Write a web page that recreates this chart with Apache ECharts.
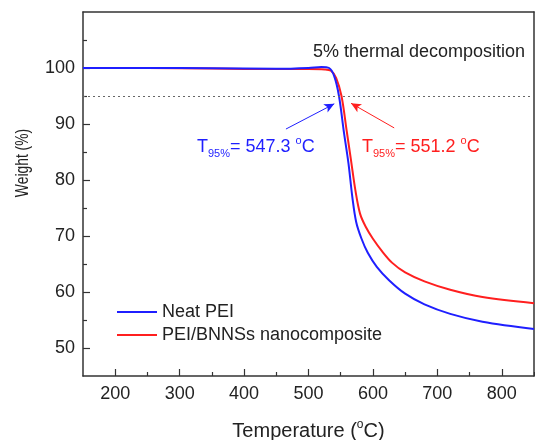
<!DOCTYPE html>
<html><head><meta charset="utf-8">
<script src="https://cdn.jsdelivr.net/npm/echarts@6/dist/echarts.min.js"></script>
<style>html,body{margin:0;padding:0;background:#fff}#c{width:535px;height:440px}</style>
</head><body><div id="c"></div><script>
const xTicks = [200, 300, 400, 500, 600, 700, 800];
const xMinor = [250, 350, 450, 550, 650, 750, 850];
const yTicks = [50, 60, 70, 80, 90, 100];
const yMinor = [55, 65, 75, 85, 95, 105];
const seriesNames = ['Neat PEI', 'PEI/BNNSs nanocomposite'];
const neatT = [150, 250, 350, 450, 500, 520, 532, 540, 547.3, 555, 562, 568, 574, 582, 592, 606, 625, 650, 680, 720, 770, 850];
const neatW = [100.0, 100.0, 99.95, 99.85, 100.0, 100.2, 100.0, 98.5, 95.0, 88.5, 83.0, 77.0, 72.5, 69.6, 67.0, 64.5, 62.1, 59.7, 57.8, 56.1, 54.7, 53.4];
const compT = [150, 250, 350, 450, 500, 525, 535, 543, 551.2, 559, 566, 573, 580, 589, 600, 614, 630, 650, 680, 720, 770, 850];
const compW = [100.0, 100.0, 99.9, 99.8, 99.8, 99.75, 99.5, 98.2, 95.0, 89.0, 83.5, 78.0, 74.0, 71.6, 69.5, 67.3, 65.2, 63.5, 61.9, 60.4, 59.1, 58.0];
const threshold = 95;
const blueArrow = [[465, 89.1], [540, 93.6]];
const redArrow = [[633, 89.3], [566, 93.7]];

const BLUE = '#1f1fff', RED = '#ff1f1f', INK = '#222';
const FONT = '"Liberation Sans", Arial, sans-serif';
const zip = (a, b) => a.map((v, i) => [v, b[i]]);

const chart = echarts.init(document.getElementById('c'), null, {renderer: 'canvas'});
const axisLine = {show: true, lineStyle: {color: '#333', width: 1.5}};
chart.setOption({
  animation: false,
  backgroundColor: '#fff',
  grid: {left: 83, right: 1, top: 12, bottom: 64, containLabel: false, outerBoundsMode: 'none'},
  xAxis: [
    {type: 'value', min: 150, max: 850, position: 'bottom', axisLine,
     splitLine: {show: false},
     axisTick: {inside: true, length: 7, customValues: xTicks, lineStyle: {color: '#333', width: 1.2}},
     axisLabel: {customValues: xTicks, margin: 9, color: INK, fontSize: 18, fontFamily: FONT},
     name: 'Temperature ({s|o}C)', nameLocation: 'middle', nameGap: 43,
     nameTextStyle: {color: INK, fontSize: 20, fontFamily: FONT,
       rich: {s: {fontSize: 12, fontFamily: FONT, color: INK, verticalAlign: 'top', lineHeight: 24}}}},
    {type: 'value', min: 150, max: 850, position: 'bottom', axisLine: {show: false},
     splitLine: {show: false}, axisLabel: {show: false},
     axisTick: {inside: true, length: 4, customValues: xMinor, lineStyle: {color: '#333', width: 1.2}}},
    {type: 'value', min: 150, max: 850, position: 'top', axisLine,
     splitLine: {show: false}, axisLabel: {show: false}, axisTick: {show: false}}
  ],
  yAxis: [
    {type: 'value', min: 45, max: 110, position: 'left', axisLine,
     splitLine: {show: false},
     axisTick: {inside: true, length: 7, customValues: yTicks, lineStyle: {color: '#333', width: 1.2}},
     axisLabel: {customValues: yTicks, margin: 8, color: INK, fontSize: 18, fontFamily: FONT}},
    {type: 'value', min: 45, max: 110, position: 'left', axisLine: {show: false},
     splitLine: {show: false}, axisLabel: {show: false},
     axisTick: {inside: true, length: 4, customValues: yMinor, lineStyle: {color: '#333', width: 1.2}}},
    {type: 'value', min: 45, max: 110, position: 'right', axisLine,
     splitLine: {show: false}, axisLabel: {show: false}, axisTick: {show: false}}
  ],
  legend: {
    data: seriesNames, orient: 'vertical', left: 112, top: 297,
    icon: 'rect', itemWidth: 40, itemHeight: 2, itemGap: 3,
    textStyle: {color: INK, fontSize: 18, fontFamily: FONT, lineHeight: 20}
  },
  series: [
    {name: seriesNames[0], type: 'line', data: zip(neatT, neatW), showSymbol: false,
     smooth: 0.35, lineStyle: {color: BLUE, width: 2}, itemStyle: {color: BLUE}, z: 3,
     markLine: {silent: true, symbol: ['none', 'arrow'], symbolSize: [7, 10], label: {show: false},
       lineStyle: {color: BLUE, width: 1, type: 'solid'},
       data: [[{coord: blueArrow[0]}, {coord: blueArrow[1]}]]}},
    {name: seriesNames[1], type: 'line', data: zip(compT, compW), showSymbol: false,
     smooth: 0.35, lineStyle: {color: RED, width: 2}, itemStyle: {color: RED}, z: 2,
     markLine: {silent: true, symbol: ['none', 'arrow'], symbolSize: [7, 10], label: {show: false},
       lineStyle: {color: RED, width: 1, type: 'solid'},
       data: [[{coord: redArrow[0]}, {coord: redArrow[1]}]]}},
    {name: 'threshold', type: 'line', data: [],
     markLine: {silent: true, symbol: ['none', 'none'], label: {show: false},
       lineStyle: {color: '#666', width: 1, type: [2, 3]},
       data: [{yAxis: threshold}]}}
  ],
  graphic: [
    {type: 'text', x: 23, y: 163, rotation: Math.PI / 2, scaleX: 0.77, z: 10,
     style: {text: 'Weight (%)', fill: INK, font: '18px ' + FONT, align: 'center', verticalAlign: 'middle'}},
    {type: 'text', left: 313, top: 43, z: 10,
     style: {text: '5% thermal decomposition', fill: INK, font: '18px ' + FONT}},
    {type: 'text', left: 197, top: 135, z: 10,
     style: {text: '{a|T}{b|95%}{a|= 547.3 }{c|o}{a|C}', fill: BLUE,
       rich: {a: {fontSize: 18, fontFamily: FONT, fill: BLUE, lineHeight: 24, verticalAlign: 'middle'},
              b: {fontSize: 11, fontFamily: FONT, fill: BLUE, verticalAlign: 'bottom', lineHeight: 24},
              c: {fontSize: 11, fontFamily: FONT, fill: BLUE, verticalAlign: 'top', lineHeight: 24}}}},
    {type: 'text', left: 362, top: 135, z: 10,
     style: {text: '{a|T}{b|95%}{a|= 551.2 }{c|o}{a|C}', fill: RED,
       rich: {a: {fontSize: 18, fontFamily: FONT, fill: RED, lineHeight: 24, verticalAlign: 'middle'},
              b: {fontSize: 11, fontFamily: FONT, fill: RED, verticalAlign: 'bottom', lineHeight: 24},
              c: {fontSize: 11, fontFamily: FONT, fill: RED, verticalAlign: 'top', lineHeight: 24}}}}
  ]
});
</script></body></html>
